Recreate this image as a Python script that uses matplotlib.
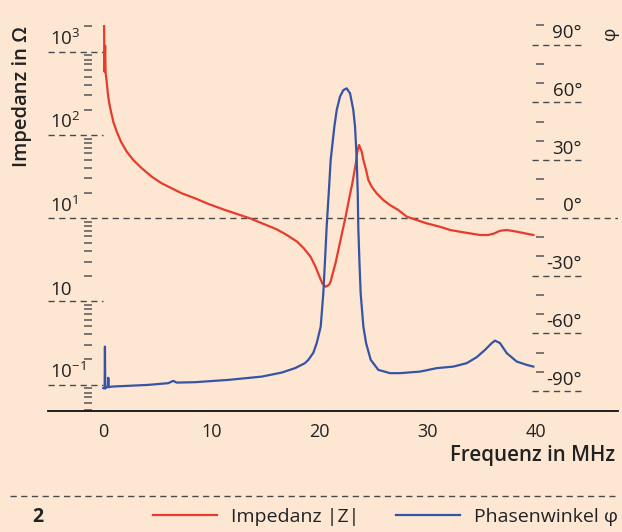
import matplotlib
matplotlib.use("Agg")
import matplotlib.pyplot as plt
import numpy as np
from matplotlib.ticker import FixedLocator, NullFormatter
from matplotlib.lines import Line2D
import matplotlib.transforms as mtrans

plt.rcParams['font.family'] = ['Open Sans', 'DejaVu Sans']
plt.rcParams['mathtext.fontset'] = 'custom'
plt.rcParams['mathtext.rm'] = 'Open Sans'

# Frequency in MHz and impedance magnitude as log10(|Z| / Ohm)
freq_z = [0.10, 0.13, 0.20, 0.24, 0.34, 0.43, 0.55, 0.74, 0.95, 1.27, 1.66, 2.19, 2.80,
          3.58, 4.50, 5.42, 6.35, 7.27, 8.50, 9.74, 11.28, 13.58, 16.05, 16.98, 17.94,
          18.55, 19.17, 19.63, 19.94, 20.25, 20.56, 20.87, 21.02, 21.50, 21.94, 22.41,
          22.71, 23.03, 23.33, 23.49, 23.65, 23.90, 24.05, 24.30, 24.51, 24.82, 25.28,
          25.89, 26.51, 27.28, 28.06, 28.98, 29.90, 31.13, 32.06, 32.98, 34.83, 35.57,
          36.12, 36.67, 37.29, 37.88, 38.52, 39.75]
log_z = [3.32, 2.76, 3.07, 2.75, 2.637, 2.517, 2.397, 2.277, 2.157, 2.037, 1.917, 1.797, 1.697,
         1.598, 1.497, 1.417, 1.357, 1.297, 1.237, 1.169, 1.096, 0.996, 0.864, 0.796, 0.715,
         0.636, 0.535, 0.415, 0.315, 0.216, 0.175, 0.196, 0.235, 0.470, 0.736, 1.016,
         1.216, 1.417, 1.637, 1.796, 1.877, 1.796, 1.697, 1.577, 1.456, 1.376, 1.297,
         1.216, 1.156, 1.096, 1.016, 0.976, 0.936, 0.895, 0.856, 0.835, 0.796, 0.796,
         0.814, 0.847, 0.856, 0.844, 0.828, 0.796]

# Frequency in MHz and phase angle in degrees
freq_phi = [0.03, 0.15, 0.18, 0.21, 0.30, 0.45, 0.49, 0.53, 0.80, 1.11, 4.18, 6.03, 6.49, 6.81,
            8.50, 11.58, 14.66, 16.51, 17.74, 18.66, 18.97, 19.43, 19.74, 20.11, 20.35,
            20.51, 20.66, 20.85, 21.03, 21.37, 21.59, 21.89, 22.20, 22.51, 22.82, 23.12,
            23.28, 23.44, 23.53, 23.58, 23.68, 23.80, 24.05, 24.30, 24.73, 25.43, 26.51,
            27.44, 29.28, 30.83, 32.36, 33.60, 34.52, 35.29, 35.91, 36.21, 36.67, 37.29,
            38.22, 39.14, 39.75]
phi = [-88.4, -88.5, -66.8, -88.5, -88.0, -87.8, -83.0, -87.9, -87.6, -87.5, -86.7, -85.8, -84.6, -85.5,
       -85.3, -84.1, -82.4, -80.3, -78.0, -75.4, -73.7, -70.0, -65.0, -56.4, -39.1,
       -21.8, -4.5, 12.8, 30.1, 47.4, 56.1, 63.0, 66.4, 67.3, 64.7, 56.1,
       47.4, 30.1, 12.8, -4.5, -21.8, -39.1, -56.4, -65.0, -73.7, -78.9, -80.6,
       -80.6, -79.8, -78.0, -77.2, -75.4, -72.3, -68.5, -65.0, -63.7, -65.0, -70.2,
       -74.6, -76.3, -77.2]

x_ticks = [0, 10, 20, 30, 40]
z_decades = [1e3, 1e2, 1e1, 1e0, 1e-1]
z_labels = [r'$\mathregular{10^{3}}$', r'$\mathregular{10^{2}}$', r'$\mathregular{10^{1}}$',
            '10', r'$\mathregular{10^{-1}}$']
phi_major = [90, 60, 30, 0, -30, -60, -90]
phi_labels = ['90°', '60°', '30°', '0°', '-30°', '-60°', '-90°']
phi_minor = [100, 80, 70, 50, 40, 20, 10, -10, -20, -40, -50, -70, -80]

BG = '#FDE7D2'
RED = '#E63C2C'
BLUE = '#3753A6'
INK = '#222222'
GRID = '#4a4a4a'

fig = plt.figure(figsize=(6.22, 5.32), dpi=100, facecolor=BG)
ax = fig.add_axes([48 / 622, 1 - 410.5 / 532, 570 / 622, 385.2 / 532])
ax.set_facecolor(BG)

ax.set_xlim(-5.08, 47.57)
ax.set_yscale('log')
ax.set_ylim(10 ** -1.312, 10 ** 3.315)

for s in ['top', 'right', 'left']:
    ax.spines[s].set_visible(False)
ax.spines['bottom'].set_color('#111111')
ax.spines['bottom'].set_linewidth(1.3)

ax.set_xticks(x_ticks)
ax.set_xticklabels([str(t) for t in x_ticks])
ax.tick_params(axis='x', length=0, pad=9, labelsize=13, labelcolor=INK)

# left log axis: minor ticks on an inner vertical line, no tick labels
ax.spines['left'].set_position(('data', -1.39))
ax.yaxis.set_major_locator(FixedLocator(z_decades))
ax.yaxis.set_major_formatter(NullFormatter())
ax.yaxis.set_minor_formatter(NullFormatter())
ax.tick_params(axis='y', which='major', length=0)
ax.tick_params(axis='y', which='minor', length=6, width=1.1, direction='inout', color='#555555')

dash = (0, (4.5, 3.2))
for v in z_decades:
    if v == 1e1:
        ax.axhline(v, color=GRID, lw=1.0, ls=dash, zorder=1)
    else:
        ax.axhline(v, xmin=0, xmax=55 / 570, color=GRID, lw=1.0, ls=dash, zorder=1)

lab_tr = mtrans.offset_copy(ax.get_yaxis_transform(), fig=fig, x=0, y=2.5, units='dots')
for v, lab in zip(z_decades, z_labels):
    ax.text(2 / 570, v, lab, transform=lab_tr, ha='left', va='bottom',
            fontsize=13.5, color=INK)

l1, = ax.plot(freq_z, np.power(10.0, log_z), color=RED, lw=1.6, zorder=3,
              solid_joinstyle='round')

# phase axis
ax2 = ax.twinx()
ax2.patch.set_visible(False)
ax2.set_ylim(-100, 100.05)
for s in ['top', 'left', 'bottom', 'right']:
    ax2.spines[s].set_visible(False)
ax2.spines['right'].set_position(('data', 40.35))
ax2.yaxis.set_major_locator(FixedLocator(phi_major))
ax2.yaxis.set_minor_locator(FixedLocator(phi_minor))
ax2.yaxis.set_major_formatter(NullFormatter())
ax2.tick_params(axis='y', which='major', length=0)
ax2.tick_params(axis='y', which='minor', length=6, width=1.1, direction='inout', color='#555555')

for v in phi_major:
    if v != 0:
        ax2.axhline(v, xmin=484 / 570, xmax=533 / 570, color=GRID, lw=1.0, ls=dash, zorder=1)

phi_tr = mtrans.offset_copy(ax2.get_yaxis_transform(), fig=fig, x=0, y=2.5, units='dots')
for v, lab in zip(phi_major, phi_labels):
    ax2.text(534 / 570, v, lab, transform=phi_tr, ha='right', va='bottom',
             fontsize=13.5, color=INK)

l2, = ax2.plot(freq_phi, phi, color=BLUE, lw=1.6, zorder=3, solid_joinstyle='round')

# axis titles
fig.text(22 / 622, 1 - 97 / 532, 'Impedanz in Ω', rotation=90, ha='center', va='center',
         fontsize=14.5, fontweight='semibold', color=INK)
fig.text(610 / 622, 1 - 33 / 532, 'φ', rotation=90, ha='center', va='center',
         fontsize=13.5, color=INK)
fig.text(615 / 622, 1 - 455 / 532, 'Frequenz in MHz', ha='right', va='center',
         fontsize=14.8, fontweight='semibold', color=INK)

# caption rule, figure number and legend
fig.add_artist(Line2D([10 / 622, 615 / 622], [1 - 496 / 532] * 2, transform=fig.transFigure,
                      color=GRID, lw=1.0, ls=dash))
fig.text(38 / 622, 1 - 517 / 532, '2', ha='center', va='center', fontsize=14,
         fontweight='bold', color=INK)
fig.legend(handles=[l1, l2], labels=['Impedanz |Z|', 'Phasenwinkel φ'],
           loc='center right', bbox_to_anchor=(618 / 622, 1 - 517 / 532), ncol=2,
           frameon=False, fontsize=14, handlelength=3.3, handletextpad=0.7,
           columnspacing=1.9, borderaxespad=0, borderpad=0, labelcolor=INK)

fig.savefig('out.png', dpi=100, facecolor=BG)
